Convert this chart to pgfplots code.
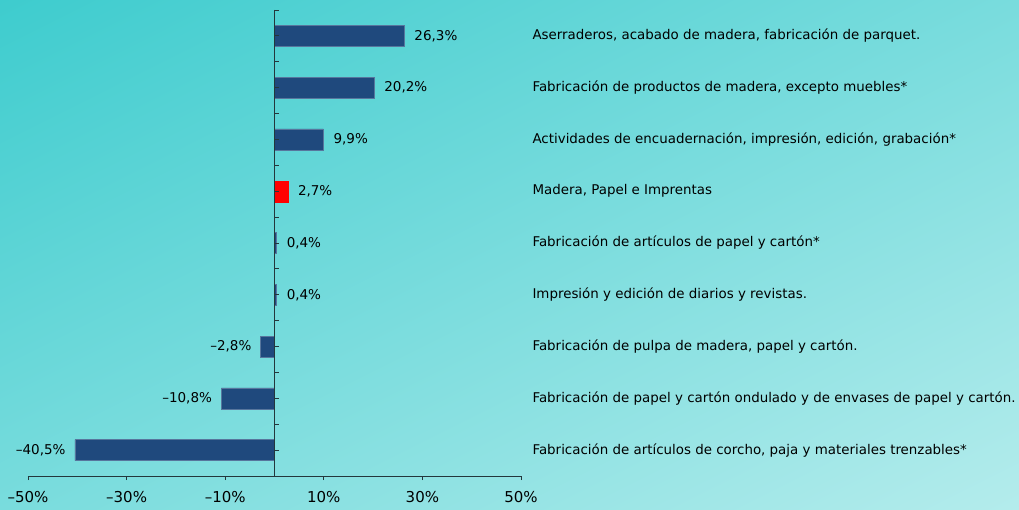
\documentclass[border=0pt]{standalone}
\usepackage{pgfplots}
\pgfplotsset{compat=1.18}
\usetikzlibrary{shadings}
\usepackage{fontspec}
\setmainfont{DejaVu Sans}
\definecolor{barblue}{RGB}{31,73,125}
\definecolor{bgtl}{RGB}{62,204,206}
\definecolor{bgbr}{RGB}{180,236,236}
\definecolor{axisgray}{RGB}{35,55,60}
\begin{document}
\begin{tikzpicture}
  \shade[upper left=bgtl, lower right=bgbr, upper right=bgtl!50!bgbr, lower left=bgtl!50!bgbr]
    (0,0) rectangle (1019pt,510pt);
  \useasboundingbox (0,0) rectangle (1019pt,510pt);
  \begin{axis}[
      at={(28pt,34pt)}, anchor=south west,
      scale only axis,
      width=493pt, height=466pt,
      xbar, bar width=21pt,
      xmin=-50, xmax=50,
      ymin=-0.5, ymax=8.5, y dir=reverse,
      axis x line*=bottom,
      axis y line*=right,
      x axis line style={axisgray, line width=0.8pt},
      y axis line style={draw=none},
      xtick={-50,-30,-10,10,30,50},
      xticklabels={–50\%,–30\%,–10\%,10\%,30\%,50\%},
      x tick style={axisgray, line width=0.8pt},
      tick align=outside, major tick length=4pt,
      xticklabel style={font=\fontsize{15}{17}\selectfont, yshift=-8pt},
      ytick={0,...,8},
      y tick style={draw=none},
      yticklabel style={font=\fontsize{13.4}{16}\selectfont, anchor=west, xshift=4pt},
      yticklabels={
        {Aserraderos, acabado de madera, fabricación de parquet.},
        {Fabricación de productos de madera, excepto muebles*},
        {Actividades de encuadernación, impresión, edición, grabación*},
        {Madera, Papel e Imprentas},
        {Fabricación de artículos de papel y cartón*},
        {Impresión y edición de diarios y revistas.},
        {Fabricación de pulpa de madera, papel y cartón.},
        {Fabricación de papel y cartón ondulado y de envases de papel y cartón.},
        {Fabricación de artículos de corcho, paja y materiales trenzables*}},
      point meta=explicit symbolic,
      clip=false,
    ]
    % positive values, label to the right of the bar
    \addplot[fill=barblue, draw=barblue!75!white, line width=0.6pt, bar shift=0pt,
        nodes near coords,
        every node near coord/.style={font=\fontsize{13.5}{16}\selectfont, anchor=west, inner xsep=10pt}]
      table[meta=lbl] {
        x     y  lbl
        26.3  0  26,3\%
        20.2  1  20,2\%
        9.9   2  9,9\%
        0.4   4  0,4\%
        0.4   5  0,4\%
      };
    % negative values, label to the left of the bar
    \addplot[fill=barblue, draw=barblue!75!white, line width=0.6pt, bar shift=0pt,
        nodes near coords,
        every node near coord/.style={font=\fontsize{13.5}{16}\selectfont, anchor=east, inner xsep=9pt}]
      table[meta=lbl] {
        x     y  lbl
        -2.8  6  –2,8\%
        -10.8 7  –10,8\%
        -40.5 8  –40,5\%
      };
    \addplot[fill=red, draw=red, bar shift=0pt,
        nodes near coords,
        every node near coord/.style={font=\fontsize{13.5}{16}\selectfont, anchor=west, inner xsep=10pt}]
      table[meta=lbl] {
        x    y  lbl
        2.7  3  2,7\%
      };
    % vertical zero line with small ticks on its right side
    \draw[axisgray, line width=0.8pt] (axis cs:0,-0.5) -- (axis cs:0,8.5);
    \pgfplotsinvokeforeach{-0.5,0,...,8.5}{
      \draw[axisgray, line width=0.8pt] (axis cs:0,#1) -- ([xshift=4pt]axis cs:0,#1);
    }
  \end{axis}
\end{tikzpicture}
\end{document}
